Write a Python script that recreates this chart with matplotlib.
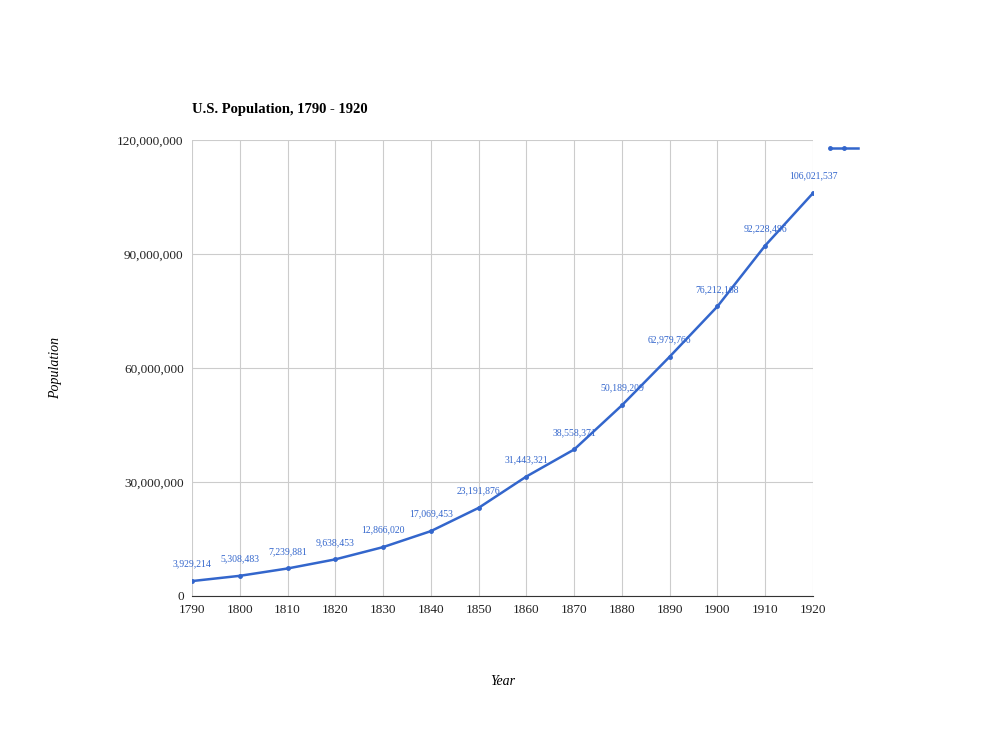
import matplotlib.pyplot as plt
from matplotlib.lines import Line2D

years = [1790, 1800, 1810, 1820, 1830, 1840, 1850, 1860, 1870, 1880, 1890, 1900, 1910, 1920]
population = [3929214, 5308483, 7239881, 9638453, 12866020, 17069453, 23191876,
              31443321, 38558371, 50189209, 62979766, 76212168, 92228496, 106021537]
yticks = [0, 30000000, 60000000, 90000000, 120000000]

plt.rcParams['font.family'] = ['Liberation Serif', 'DejaVu Serif']
blue = '#3366cc'

fig = plt.figure(figsize=(10.06, 7.36), dpi=100)
ax = fig.add_axes([192 / 1006, 140 / 736, 621 / 1006, 456 / 736])

ax.plot(years, population, color=blue, lw=1.8, marker='o', ms=2.5)
for x, y in zip(years, population):
    ax.annotate(f"{y:,}", (x, y), xytext=(0, 9), textcoords='offset points',
                ha='center', va='bottom', fontsize=7, color=blue)

ax.set_xlim(1790, 1920)
ax.set_ylim(0, 120000000)
ax.set_xticks(years)
ax.set_yticks(yticks)
ax.set_yticklabels([f"{v:,}" for v in yticks])
ax.tick_params(length=0, labelsize=9.5, colors='#222222', pad=6)
ax.grid(True, color='#cccccc', lw=0.8)
for s in ['top', 'right', 'left']:
    ax.spines[s].set_visible(False)
ax.spines['bottom'].set_color('#333333')

ax.set_xlabel('Year', style='italic', fontsize=10, labelpad=42)
ax.set_ylabel('Population', style='italic', fontsize=10, labelpad=40)
fig.text(192 / 1006, 1 - 110 / 736, 'U.S. Population, 1790 - 1920',
         fontsize=10.5, fontweight='bold', va='center')

fig.add_artist(Line2D([830 / 1006, 858 / 1006], [1 - 148 / 736] * 2,
                      color=blue, lw=1.8, marker='o', ms=2.5, markevery=[0],
                      transform=fig.transFigure))
fig.add_artist(Line2D([844 / 1006], [1 - 148 / 736], color=blue, marker='o', ms=2.5,
                      transform=fig.transFigure))

fig.savefig('out.png', dpi=100)
